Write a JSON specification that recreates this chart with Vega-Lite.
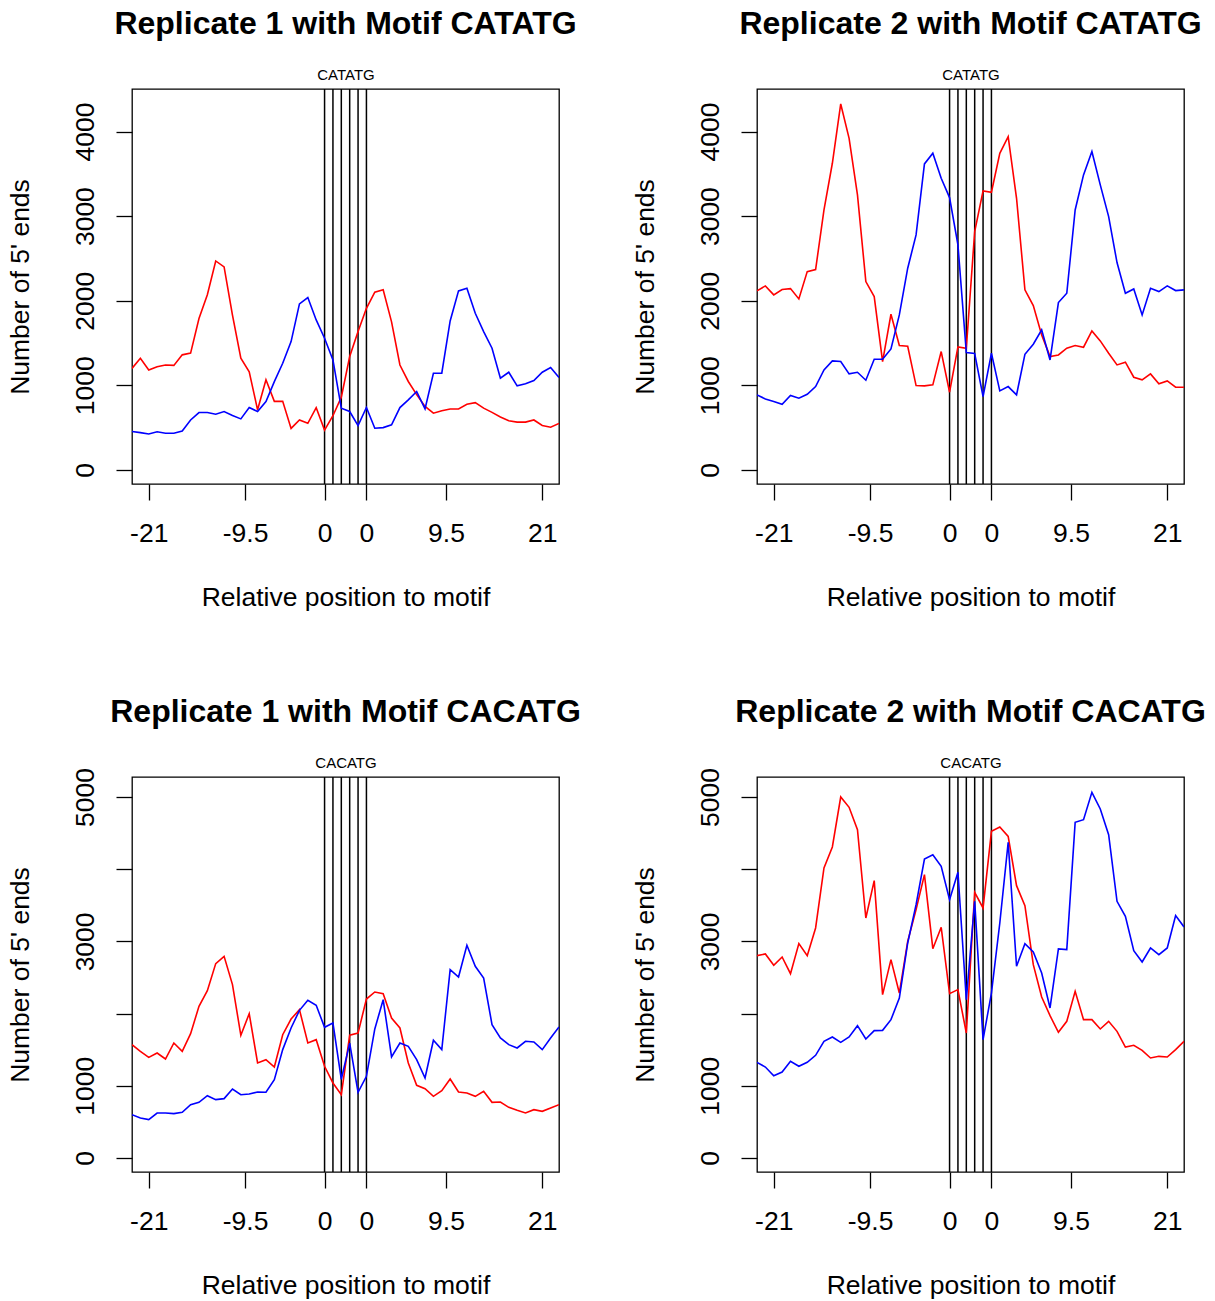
{
  "$schema": "https://vega.github.io/schema/vega-lite/v6.json",
  "padding": {"left": 6, "top": 7, "right": 5, "bottom": 5},
  "background": "white",
  "config": {
    "font": "Liberation Sans",
    "view": {"stroke": "black", "strokeWidth": 1.3},
    "axis": {"tickColor": "black", "labelColor": "black", "titleColor": "black", "tickWidth": 1.3, "labelFont": "Liberation Sans", "titleFont": "Liberation Sans", "grid": false, "domain": false},
    "title": {"font": "Liberation Sans", "fontSize": 32, "fontWeight": "bold", "color": "black", "anchor": "middle", "frame": "group", "baseline": "alphabetic", "offset": 26}
  },
  "datasets": {
    "motif": [{"pos": 0}, {"pos": 1}, {"pos": 2}, {"pos": 3}, {"pos": 4}, {"pos": 5}],
    "profiles": [
      {"pos": -23, "r1_CATATG_fwd": 1200, "r1_CATATG_rev": 453, "r2_CATATG_fwd": 2116, "r2_CATATG_rev": 887, "r1_CACATG_fwd": 1570, "r1_CACATG_rev": 600, "r2_CACATG_fwd": 2803, "r2_CACATG_rev": 1325},
      {"pos": -22, "r1_CATATG_fwd": 1320, "r1_CATATG_rev": 440, "r2_CATATG_fwd": 2175, "r2_CATATG_rev": 839, "r1_CACATG_fwd": 1477, "r1_CACATG_rev": 554, "r2_CACATG_fwd": 2826, "r2_CACATG_rev": 1260},
      {"pos": -21, "r1_CATATG_fwd": 1180, "r1_CATATG_rev": 425, "r2_CATATG_fwd": 2069, "r2_CATATG_rev": 808, "r1_CACATG_fwd": 1394, "r1_CACATG_rev": 531, "r2_CACATG_fwd": 2669, "r2_CACATG_rev": 1140},
      {"pos": -20, "r1_CATATG_fwd": 1220, "r1_CATATG_rev": 450, "r2_CATATG_fwd": 2132, "r2_CATATG_rev": 776, "r1_CACATG_fwd": 1454, "r1_CACATG_rev": 623, "r2_CACATG_fwd": 2784, "r2_CACATG_rev": 1191},
      {"pos": -19, "r1_CATATG_fwd": 1240, "r1_CATATG_rev": 433, "r2_CATATG_fwd": 2143, "r2_CATATG_rev": 879, "r1_CACATG_fwd": 1371, "r1_CACATG_rev": 623, "r2_CACATG_fwd": 2553, "r2_CACATG_rev": 1339},
      {"pos": -18, "r1_CATATG_fwd": 1235, "r1_CATATG_rev": 433, "r2_CATATG_fwd": 2021, "r2_CATATG_rev": 847, "r1_CACATG_fwd": 1593, "r1_CACATG_rev": 614, "r2_CACATG_fwd": 2969, "r2_CACATG_rev": 1270},
      {"pos": -17, "r1_CATATG_fwd": 1360, "r1_CATATG_rev": 460, "r2_CATATG_fwd": 2344, "r2_CATATG_rev": 894, "r1_CACATG_fwd": 1477, "r1_CACATG_rev": 633, "r2_CACATG_fwd": 2803, "r2_CACATG_rev": 1325},
      {"pos": -16, "r1_CATATG_fwd": 1380, "r1_CATATG_rev": 590, "r2_CATATG_fwd": 2368, "r2_CATATG_rev": 985, "r1_CACATG_fwd": 1722, "r1_CACATG_rev": 739, "r2_CACATG_fwd": 3186, "r2_CACATG_rev": 1422},
      {"pos": -15, "r1_CATATG_fwd": 1790, "r1_CATATG_rev": 678, "r2_CATATG_fwd": 3073, "r2_CATATG_rev": 1182, "r1_CACATG_fwd": 2101, "r1_CACATG_rev": 771, "r2_CACATG_fwd": 4017, "r2_CACATG_rev": 1616},
      {"pos": -14, "r1_CATATG_fwd": 2070, "r1_CATATG_rev": 678, "r2_CATATG_fwd": 3625, "r2_CATATG_rev": 1288, "r1_CACATG_fwd": 2318, "r1_CACATG_rev": 863, "r2_CACATG_fwd": 4308, "r2_CACATG_rev": 1676},
      {"pos": -13, "r1_CATATG_fwd": 2470, "r1_CATATG_rev": 658, "r2_CATATG_fwd": 4326, "r2_CATATG_rev": 1281, "r1_CACATG_fwd": 2692, "r1_CACATG_rev": 808, "r2_CACATG_fwd": 5000, "r2_CACATG_rev": 1602},
      {"pos": -12, "r1_CATATG_fwd": 2400, "r1_CATATG_rev": 690, "r2_CATATG_fwd": 3920, "r2_CATATG_rev": 1135, "r1_CACATG_fwd": 2793, "r1_CACATG_rev": 822, "r2_CACATG_fwd": 4857, "r2_CACATG_rev": 1676},
      {"pos": -11, "r1_CATATG_fwd": 1830, "r1_CATATG_rev": 642, "r2_CATATG_fwd": 3251, "r2_CATATG_rev": 1154, "r1_CACATG_fwd": 2401, "r1_CACATG_rev": 956, "r2_CACATG_fwd": 4548, "r2_CACATG_rev": 1833},
      {"pos": -10, "r1_CATATG_fwd": 1320, "r1_CATATG_rev": 603, "r2_CATATG_fwd": 2226, "r2_CATATG_rev": 1060, "r1_CACATG_fwd": 1699, "r1_CACATG_rev": 877, "r2_CACATG_fwd": 3324, "r2_CACATG_rev": 1648},
      {"pos": -9, "r1_CATATG_fwd": 1160, "r1_CATATG_rev": 737, "r2_CATATG_fwd": 2049, "r2_CATATG_rev": 1308, "r1_CACATG_fwd": 1999, "r1_CACATG_rev": 886, "r2_CACATG_fwd": 3841, "r2_CACATG_rev": 1764},
      {"pos": -8, "r1_CATATG_fwd": 710, "r1_CATATG_rev": 690, "r2_CATATG_fwd": 1281, "r2_CATATG_rev": 1308, "r1_CACATG_fwd": 1316, "r1_CACATG_rev": 914, "r2_CACATG_fwd": 2262, "r2_CACATG_rev": 1768},
      {"pos": -7, "r1_CATATG_fwd": 1065, "r1_CATATG_rev": 808, "r2_CATATG_fwd": 1840, "r2_CATATG_rev": 1430, "r1_CACATG_fwd": 1362, "r1_CACATG_rev": 910, "r2_CACATG_fwd": 2747, "r2_CACATG_rev": 1916},
      {"pos": -6, "r1_CATATG_fwd": 810, "r1_CATATG_rev": 1044, "r2_CATATG_fwd": 1470, "r2_CATATG_rev": 1832, "r1_CACATG_fwd": 1260, "r1_CACATG_rev": 1085, "r2_CACATG_fwd": 2285, "r2_CACATG_rev": 2216},
      {"pos": -5, "r1_CATATG_fwd": 810, "r1_CATATG_rev": 1261, "r2_CATATG_fwd": 1462, "r2_CATATG_rev": 2384, "r1_CACATG_fwd": 1708, "r1_CACATG_rev": 1501, "r2_CACATG_fwd": 3001, "r2_CACATG_rev": 2978},
      {"pos": -4, "r1_CATATG_fwd": 490, "r1_CATATG_rev": 1517, "r2_CATATG_fwd": 997, "r2_CATATG_rev": 2778, "r1_CACATG_fwd": 1925, "r1_CACATG_rev": 1801, "r2_CACATG_fwd": 3440, "r2_CACATG_rev": 3509},
      {"pos": -3, "r1_CATATG_fwd": 590, "r1_CATATG_rev": 1962, "r2_CATATG_fwd": 993, "r2_CATATG_rev": 3617, "r1_CACATG_fwd": 2055, "r1_CACATG_rev": 2045, "r2_CACATG_fwd": 3924, "r2_CACATG_rev": 4141},
      {"pos": -2, "r1_CATATG_fwd": 550, "r1_CATATG_rev": 2037, "r2_CATATG_fwd": 1005, "r2_CATATG_rev": 3743, "r1_CACATG_fwd": 1593, "r1_CACATG_rev": 2184, "r2_CACATG_fwd": 2899, "r2_CACATG_rev": 4201},
      {"pos": -1, "r1_CATATG_fwd": 735, "r1_CATATG_rev": 1773, "r2_CATATG_fwd": 1399, "r2_CATATG_rev": 3448, "r1_CACATG_fwd": 1639, "r1_CACATG_rev": 2115, "r2_CACATG_fwd": 3195, "r2_CACATG_rev": 4040},
      {"pos": 0, "r1_CATATG_fwd": 470, "r1_CATATG_rev": 1556, "r2_CATATG_fwd": 918, "r2_CATATG_rev": 3219, "r1_CACATG_fwd": 1270, "r1_CACATG_rev": 1810, "r2_CACATG_fwd": 2276, "r2_CACATG_rev": 3578},
      {"pos": 1, "r1_CATATG_fwd": 640, "r1_CATATG_rev": 1300, "r2_CATATG_fwd": 1454, "r2_CATATG_rev": 2660, "r1_CACATG_fwd": 1039, "r1_CACATG_rev": 1870, "r2_CACATG_fwd": 2332, "r2_CACATG_rev": 3957},
      {"pos": 2, "r1_CATATG_fwd": 860, "r1_CATATG_rev": 729, "r2_CATATG_fwd": 1438, "r2_CATATG_rev": 1387, "r1_CACATG_fwd": 877, "r1_CACATG_rev": 1090, "r2_CACATG_fwd": 1731, "r2_CACATG_rev": 2193},
      {"pos": 3, "r1_CATATG_fwd": 1340, "r1_CATATG_rev": 690, "r2_CATATG_fwd": 2817, "r2_CATATG_rev": 1375, "r1_CACATG_fwd": 1700, "r1_CACATG_rev": 1590, "r2_CACATG_fwd": 3680, "r2_CACATG_rev": 3555},
      {"pos": 4, "r1_CATATG_fwd": 1635, "r1_CATATG_rev": 524, "r2_CATATG_fwd": 3298, "r2_CATATG_rev": 867, "r1_CACATG_fwd": 1731, "r1_CACATG_rev": 910, "r2_CACATG_fwd": 3463, "r2_CACATG_rev": 1639},
      {"pos": 5, "r1_CATATG_fwd": 1910, "r1_CATATG_rev": 737, "r2_CATATG_fwd": 3282, "r2_CATATG_rev": 1379, "r1_CACATG_fwd": 2202, "r1_CACATG_rev": 1131, "r2_CACATG_fwd": 4525, "r2_CACATG_rev": 2285},
      {"pos": 6, "r1_CATATG_fwd": 2100, "r1_CATATG_rev": 493, "r2_CATATG_fwd": 3743, "r2_CATATG_rev": 934, "r1_CACATG_fwd": 2299, "r1_CACATG_rev": 1787, "r2_CACATG_fwd": 4585, "r2_CACATG_rev": 3255},
      {"pos": 7, "r1_CATATG_fwd": 2130, "r1_CATATG_rev": 500, "r2_CATATG_fwd": 3940, "r2_CATATG_rev": 985, "r1_CACATG_fwd": 2276, "r1_CACATG_rev": 2193, "r2_CACATG_fwd": 4455, "r2_CACATG_rev": 4372},
      {"pos": 8, "r1_CATATG_fwd": 1750, "r1_CATATG_rev": 532, "r2_CATATG_fwd": 3211, "r2_CATATG_rev": 887, "r1_CACATG_fwd": 1939, "r1_CACATG_rev": 1399, "r2_CACATG_fwd": 3772, "r2_CACATG_rev": 2655},
      {"pos": 9, "r1_CATATG_fwd": 1240, "r1_CATATG_rev": 737, "r2_CATATG_fwd": 2128, "r2_CATATG_rev": 1367, "r1_CACATG_fwd": 1801, "r1_CACATG_rev": 1593, "r2_CACATG_fwd": 3495, "r2_CACATG_rev": 2969},
      {"pos": 10, "r1_CATATG_fwd": 1045, "r1_CATATG_rev": 827, "r2_CATATG_fwd": 1942, "r2_CATATG_rev": 1485, "r1_CACATG_fwd": 1316, "r1_CACATG_rev": 1547, "r2_CACATG_fwd": 2678, "r2_CACATG_rev": 2853},
      {"pos": 11, "r1_CATATG_fwd": 890, "r1_CATATG_rev": 926, "r2_CATATG_fwd": 1596, "r2_CATATG_rev": 1655, "r1_CACATG_fwd": 1007, "r1_CACATG_rev": 1362, "r2_CACATG_fwd": 2230, "r2_CACATG_rev": 2562},
      {"pos": 12, "r1_CATATG_fwd": 750, "r1_CATATG_rev": 721, "r2_CATATG_fwd": 1340, "r2_CATATG_rev": 1300, "r1_CACATG_fwd": 960, "r1_CACATG_rev": 1108, "r2_CACATG_fwd": 1971, "r2_CACATG_rev": 2078},
      {"pos": 13, "r1_CATATG_fwd": 670, "r1_CATATG_rev": 1143, "r2_CATATG_fwd": 1359, "r2_CATATG_rev": 1978, "r1_CACATG_fwd": 854, "r1_CACATG_rev": 1630, "r2_CACATG_fwd": 1741, "r2_CACATG_rev": 2895},
      {"pos": 14, "r1_CATATG_fwd": 700, "r1_CATATG_rev": 1143, "r2_CATATG_fwd": 1438, "r2_CATATG_rev": 2088, "r1_CACATG_fwd": 933, "r1_CACATG_rev": 1501, "r2_CACATG_fwd": 1893, "r2_CACATG_rev": 2886},
      {"pos": 15, "r1_CATATG_fwd": 720, "r1_CATATG_rev": 1761, "r2_CATATG_fwd": 1470, "r2_CATATG_rev": 3073, "r1_CACATG_fwd": 1094, "r1_CACATG_rev": 2609, "r2_CACATG_fwd": 2309, "r2_CACATG_rev": 4649},
      {"pos": 16, "r1_CATATG_fwd": 720, "r1_CATATG_rev": 2116, "r2_CATATG_fwd": 1450, "r2_CATATG_rev": 3487, "r1_CACATG_fwd": 914, "r1_CACATG_rev": 2507, "r2_CACATG_fwd": 1916, "r2_CACATG_rev": 4686},
      {"pos": 17, "r1_CATATG_fwd": 775, "r1_CATATG_rev": 2147, "r2_CATATG_fwd": 1643, "r2_CATATG_rev": 3763, "r1_CACATG_fwd": 900, "r1_CACATG_rev": 2946, "r2_CACATG_fwd": 1916, "r2_CACATG_rev": 5065},
      {"pos": 18, "r1_CATATG_fwd": 795, "r1_CATATG_rev": 1852, "r2_CATATG_fwd": 1525, "r2_CATATG_rev": 3369, "r1_CACATG_fwd": 854, "r1_CACATG_rev": 2655, "r2_CACATG_fwd": 1787, "r2_CACATG_rev": 4834},
      {"pos": 19, "r1_CATATG_fwd": 730, "r1_CATATG_rev": 1635, "r2_CATATG_fwd": 1379, "r2_CATATG_rev": 2994, "r1_CACATG_fwd": 923, "r1_CACATG_rev": 2493, "r2_CACATG_fwd": 1893, "r2_CACATG_rev": 4478},
      {"pos": 20, "r1_CATATG_fwd": 680, "r1_CATATG_rev": 1438, "r2_CATATG_fwd": 1241, "r2_CATATG_rev": 2451, "r1_CACATG_fwd": 771, "r1_CACATG_rev": 1847, "r2_CACATG_fwd": 1754, "r2_CACATG_rev": 3555},
      {"pos": 21, "r1_CATATG_fwd": 625, "r1_CATATG_rev": 1084, "r2_CATATG_fwd": 1273, "r2_CATATG_rev": 2088, "r1_CACATG_fwd": 776, "r1_CACATG_rev": 1662, "r2_CACATG_fwd": 1537, "r2_CACATG_rev": 3347},
      {"pos": 22, "r1_CATATG_fwd": 580, "r1_CATATG_rev": 1154, "r2_CATATG_fwd": 1095, "r2_CATATG_rev": 2139, "r1_CACATG_fwd": 702, "r1_CACATG_rev": 1570, "r2_CACATG_fwd": 1561, "r2_CACATG_rev": 2872},
      {"pos": 23, "r1_CATATG_fwd": 565, "r1_CATATG_rev": 993, "r2_CATATG_fwd": 1064, "r2_CATATG_rev": 1832, "r1_CACATG_fwd": 660, "r1_CACATG_rev": 1524, "r2_CACATG_fwd": 1491, "r2_CACATG_rev": 2715},
      {"pos": 24, "r1_CATATG_fwd": 565, "r1_CATATG_rev": 1017, "r2_CATATG_fwd": 1135, "r2_CATATG_rev": 2147, "r1_CACATG_fwd": 623, "r1_CACATG_rev": 1616, "r2_CACATG_fwd": 1385, "r2_CACATG_rev": 2909},
      {"pos": 25, "r1_CATATG_fwd": 590, "r1_CATATG_rev": 1056, "r2_CATATG_fwd": 1017, "r2_CATATG_rev": 2108, "r1_CACATG_fwd": 669, "r1_CACATG_rev": 1607, "r2_CACATG_fwd": 1408, "r2_CACATG_rev": 2816},
      {"pos": 26, "r1_CATATG_fwd": 525, "r1_CATATG_rev": 1154, "r2_CATATG_fwd": 1052, "r2_CATATG_rev": 2175, "r1_CACATG_fwd": 646, "r1_CACATG_rev": 1501, "r2_CACATG_fwd": 1399, "r2_CACATG_rev": 2909},
      {"pos": 27, "r1_CATATG_fwd": 505, "r1_CATATG_rev": 1210, "r2_CATATG_fwd": 977, "r2_CATATG_rev": 2120, "r1_CACATG_fwd": 693, "r1_CACATG_rev": 1662, "r2_CACATG_fwd": 1501, "r2_CACATG_rev": 3357},
      {"pos": 28, "r1_CATATG_fwd": 550, "r1_CATATG_rev": 1091, "r2_CATATG_fwd": 977, "r2_CATATG_rev": 2128, "r1_CACATG_fwd": 739, "r1_CACATG_rev": 1815, "r2_CACATG_fwd": 1616, "r2_CACATG_rev": 3200}
    ]
  },
  "columns": 2,
  "spacing": {"row": 293, "column": 198},
  "bounds": "flush",
  "concat": [
    {
      "width": 427, "height": 395,
      "title": {"text": "Replicate 1 with Motif CATATG"},
      "resolve": {"axis": {"x": "independent"}},
      "layer": [
        {
          "data": {"name": "motif"},
          "mark": {"type": "rule", "color": "black", "strokeWidth": 1.5},
          "encoding": {"x": {"field": "pos", "type": "quantitative", "scale": {"domain": [-23, 28], "nice": false, "zero": false}, "axis": {"orient": "top", "values": [2.5], "labelExpr": "'CATATG'", "ticks": false, "tickSize": 0, "labelFontSize": 15, "labelPadding": 7, "labelFlush": false, "title": null}}}
        },
        {
          "data": {"name": "profiles"},
          "transform": [{"fold": ["r1_CATATG_fwd", "r1_CATATG_rev"], "as": ["series", "count"]}],
          "mark": {"type": "line", "strokeWidth": 1.6, "clip": true},
          "encoding": {
            "x": {"field": "pos", "type": "quantitative", "scale": {"domain": [-23, 28], "nice": false, "zero": false}, "axis": {"orient": "bottom", "values": [-21, -9.5, 0, 5, 14.5, 26], "labelExpr": "datum.value == -21 ? '-21' : datum.value == -9.5 ? '-9.5' : datum.value == 14.5 ? '9.5' : datum.value == 26 ? '21' : '0'", "tickSize": 16, "labelPadding": 20, "labelFontSize": 26.5, "labelFlush": false, "labelOverlap": false, "title": "Relative position to motif", "titleFontSize": 26.5, "titleFontWeight": "normal", "titlePadding": 37.5}},
            "y": {"field": "count", "type": "quantitative", "scale": {"domain": [-167, 4503], "nice": false, "zero": false}, "axis": {"values": [0, 1000, 2000, 3000, 4000], "format": "d", "labelAngle": 270, "labelAlign": "center", "labelBaseline": "bottom", "tickSize": 16, "labelPadding": 17, "labelFontSize": 26.5, "labelFlush": false, "labelOverlap": false, "title": "Number of 5' ends", "titleFontSize": 26.5, "titleFontWeight": "normal", "titlePadding": 37.5}},
            "color": {"field": "series", "type": "nominal", "scale": {"domain": ["r1_CATATG_fwd", "r1_CATATG_rev"], "range": ["#FF0000", "#0000FF"]}, "legend": null}
          }
        }
      ]
    },
    {
      "width": 427, "height": 395,
      "title": {"text": "Replicate 2 with Motif CATATG"},
      "resolve": {"axis": {"x": "independent"}},
      "layer": [
        {
          "data": {"name": "motif"},
          "mark": {"type": "rule", "color": "black", "strokeWidth": 1.5},
          "encoding": {"x": {"field": "pos", "type": "quantitative", "scale": {"domain": [-23, 28], "nice": false, "zero": false}, "axis": {"orient": "top", "values": [2.5], "labelExpr": "'CATATG'", "ticks": false, "tickSize": 0, "labelFontSize": 15, "labelPadding": 7, "labelFlush": false, "title": null}}}
        },
        {
          "data": {"name": "profiles"},
          "transform": [{"fold": ["r2_CATATG_fwd", "r2_CATATG_rev"], "as": ["series", "count"]}],
          "mark": {"type": "line", "strokeWidth": 1.6, "clip": true},
          "encoding": {
            "x": {"field": "pos", "type": "quantitative", "scale": {"domain": [-23, 28], "nice": false, "zero": false}, "axis": {"orient": "bottom", "values": [-21, -9.5, 0, 5, 14.5, 26], "labelExpr": "datum.value == -21 ? '-21' : datum.value == -9.5 ? '-9.5' : datum.value == 14.5 ? '9.5' : datum.value == 26 ? '21' : '0'", "tickSize": 16, "labelPadding": 20, "labelFontSize": 26.5, "labelFlush": false, "labelOverlap": false, "title": "Relative position to motif", "titleFontSize": 26.5, "titleFontWeight": "normal", "titlePadding": 37.5}},
            "y": {"field": "count", "type": "quantitative", "scale": {"domain": [-167, 4503], "nice": false, "zero": false}, "axis": {"values": [0, 1000, 2000, 3000, 4000], "format": "d", "labelAngle": 270, "labelAlign": "center", "labelBaseline": "bottom", "tickSize": 16, "labelPadding": 17, "labelFontSize": 26.5, "labelFlush": false, "labelOverlap": false, "title": "Number of 5' ends", "titleFontSize": 26.5, "titleFontWeight": "normal", "titlePadding": 37.5}},
            "color": {"field": "series", "type": "nominal", "scale": {"domain": ["r2_CATATG_fwd", "r2_CATATG_rev"], "range": ["#FF0000", "#0000FF"]}, "legend": null}
          }
        }
      ]
    },
    {
      "width": 427, "height": 395,
      "title": {"text": "Replicate 1 with Motif CACATG"},
      "resolve": {"axis": {"x": "independent"}},
      "layer": [
        {
          "data": {"name": "motif"},
          "mark": {"type": "rule", "color": "black", "strokeWidth": 1.5},
          "encoding": {"x": {"field": "pos", "type": "quantitative", "scale": {"domain": [-23, 28], "nice": false, "zero": false}, "axis": {"orient": "top", "values": [2.5], "labelExpr": "'CACATG'", "ticks": false, "tickSize": 0, "labelFontSize": 15, "labelPadding": 7, "labelFlush": false, "title": null}}}
        },
        {
          "data": {"name": "profiles"},
          "transform": [{"fold": ["r1_CACATG_fwd", "r1_CACATG_rev"], "as": ["series", "count"]}],
          "mark": {"type": "line", "strokeWidth": 1.6, "clip": true},
          "encoding": {
            "x": {"field": "pos", "type": "quantitative", "scale": {"domain": [-23, 28], "nice": false, "zero": false}, "axis": {"orient": "bottom", "values": [-21, -9.5, 0, 5, 14.5, 26], "labelExpr": "datum.value == -21 ? '-21' : datum.value == -9.5 ? '-9.5' : datum.value == 14.5 ? '9.5' : datum.value == 26 ? '21' : '0'", "tickSize": 16, "labelPadding": 20, "labelFontSize": 26.5, "labelFlush": false, "labelOverlap": false, "title": "Relative position to motif", "titleFontSize": 26.5, "titleFontWeight": "normal", "titlePadding": 37.5}},
            "y": {"field": "count", "type": "quantitative", "scale": {"domain": [-194, 5277], "nice": false, "zero": false}, "axis": {"values": [0, 1000, 2000, 3000, 4000, 5000], "format": "d", "labelExpr": "datum.value == 2000 || datum.value == 4000 ? '' : datum.label", "labelAngle": 270, "labelAlign": "center", "labelBaseline": "bottom", "tickSize": 16, "labelPadding": 17, "labelFontSize": 26.5, "labelFlush": false, "labelOverlap": false, "title": "Number of 5' ends", "titleFontSize": 26.5, "titleFontWeight": "normal", "titlePadding": 37.5}},
            "color": {"field": "series", "type": "nominal", "scale": {"domain": ["r1_CACATG_fwd", "r1_CACATG_rev"], "range": ["#FF0000", "#0000FF"]}, "legend": null}
          }
        }
      ]
    },
    {
      "width": 427, "height": 395,
      "title": {"text": "Replicate 2 with Motif CACATG"},
      "resolve": {"axis": {"x": "independent"}},
      "layer": [
        {
          "data": {"name": "motif"},
          "mark": {"type": "rule", "color": "black", "strokeWidth": 1.5},
          "encoding": {"x": {"field": "pos", "type": "quantitative", "scale": {"domain": [-23, 28], "nice": false, "zero": false}, "axis": {"orient": "top", "values": [2.5], "labelExpr": "'CACATG'", "ticks": false, "tickSize": 0, "labelFontSize": 15, "labelPadding": 7, "labelFlush": false, "title": null}}}
        },
        {
          "data": {"name": "profiles"},
          "transform": [{"fold": ["r2_CACATG_fwd", "r2_CACATG_rev"], "as": ["series", "count"]}],
          "mark": {"type": "line", "strokeWidth": 1.6, "clip": true},
          "encoding": {
            "x": {"field": "pos", "type": "quantitative", "scale": {"domain": [-23, 28], "nice": false, "zero": false}, "axis": {"orient": "bottom", "values": [-21, -9.5, 0, 5, 14.5, 26], "labelExpr": "datum.value == -21 ? '-21' : datum.value == -9.5 ? '-9.5' : datum.value == 14.5 ? '9.5' : datum.value == 26 ? '21' : '0'", "tickSize": 16, "labelPadding": 20, "labelFontSize": 26.5, "labelFlush": false, "labelOverlap": false, "title": "Relative position to motif", "titleFontSize": 26.5, "titleFontWeight": "normal", "titlePadding": 37.5}},
            "y": {"field": "count", "type": "quantitative", "scale": {"domain": [-194, 5277], "nice": false, "zero": false}, "axis": {"values": [0, 1000, 2000, 3000, 4000, 5000], "format": "d", "labelExpr": "datum.value == 2000 || datum.value == 4000 ? '' : datum.label", "labelAngle": 270, "labelAlign": "center", "labelBaseline": "bottom", "tickSize": 16, "labelPadding": 17, "labelFontSize": 26.5, "labelFlush": false, "labelOverlap": false, "title": "Number of 5' ends", "titleFontSize": 26.5, "titleFontWeight": "normal", "titlePadding": 37.5}},
            "color": {"field": "series", "type": "nominal", "scale": {"domain": ["r2_CACATG_fwd", "r2_CACATG_rev"], "range": ["#FF0000", "#0000FF"]}, "legend": null}
          }
        }
      ]
    }
  ]
}
